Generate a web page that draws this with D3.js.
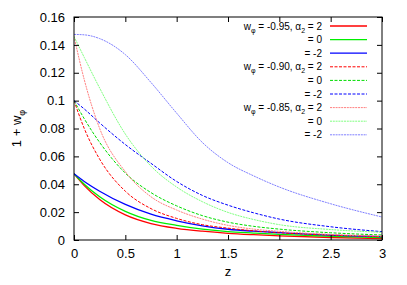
<!DOCTYPE html>
<html lang="en">
<head>
    <meta charset="UTF-8">
    <title>1 + w_phi versus z</title>
    <script src="https://cdnjs.cloudflare.com/ajax/libs/d3/7.8.5/d3.min.js"></script>
    <style>
        body { margin: 0; padding: 0; background: #fff; }
        svg { display: block; font-family: "Liberation Sans", Arial, sans-serif; }
    </style>
</head>
<body>
    <div id="chart"></div>
    <script>
        // redshift grid the curves were read at
        const zGrid = [0, 0.1, 0.25, 0.5, 0.75, 1, 1.25, 1.5, 1.75, 2, 2.5, 3];

        // w_phi = -0.95
        const w95a2 = [0.0475, 0.039, 0.029, 0.018, 0.0118, 0.0084, 0.0063, 0.0048, 0.0038, 0.003, 0.0018, 0.001];
        const w95a0 = [0.0475, 0.040, 0.031, 0.0205, 0.014, 0.0105, 0.0078, 0.006, 0.005, 0.0041, 0.0027, 0.0017];
        const w95am2 = [0.0475, 0.042, 0.035, 0.0255, 0.0185, 0.0138, 0.0102, 0.0077, 0.0063, 0.0053, 0.0035, 0.0024];
        // w_phi = -0.90
        const w90a2 = [0.100, 0.080, 0.058, 0.035, 0.0225, 0.0155, 0.011, 0.0085, 0.0066, 0.0052, 0.0035, 0.0024];
        const w90a0 = [0.100, 0.087, 0.070, 0.048, 0.034, 0.0245, 0.0175, 0.0128, 0.0098, 0.0078, 0.0052, 0.0036];
        const w90am2 = [0.100, 0.094, 0.084, 0.0685, 0.055, 0.042, 0.032, 0.025, 0.0195, 0.015, 0.0095, 0.006];
        // w_phi = -0.85
        const w85a2 = [0.146, 0.115, 0.080, 0.049, 0.031, 0.0215, 0.015, 0.0105, 0.0078, 0.0062, 0.004, 0.0028];
        const w85a0 = [0.146, 0.131, 0.109, 0.076, 0.053, 0.038, 0.0275, 0.0198, 0.0147, 0.011, 0.0075, 0.0055];
        const w85am2 = [0.1475, 0.1472, 0.1445, 0.133, 0.113, 0.091, 0.070, 0.0555, 0.046, 0.038, 0.026, 0.0165];

        const xTicks = [0, 0.5, 1, 1.5, 2, 2.5, 3];
        const yTicks = [0, 0.02, 0.04, 0.06, 0.08, 0.1, 0.12, 0.14, 0.16];

        const series = [
            { w: "-0.95", a: "2", values: w95a2, color: "#ff0000", width: 1.3, dash: null },
            { w: null, a: "0", values: w95a0, color: "#00ee00", width: 1.3, dash: null },
            { w: null, a: "-2", values: w95am2, color: "#0000ff", width: 1.3, dash: null },
            { w: "-0.90", a: "2", values: w90a2, color: "#ff0000", width: 1, dash: "3,1.5" },
            { w: null, a: "0", values: w90a0, color: "#00dd00", width: 1, dash: "3,1.5" },
            { w: null, a: "-2", values: w90am2, color: "#0000ff", width: 1, dash: "3,1.5" },
            { w: "-0.85", a: "2", values: w85a2, color: "#ff8080", width: 1, dash: "2,0.8" },
            { w: null, a: "0", values: w85a0, color: "#80ff80", width: 1, dash: "2,0.8" },
            { w: null, a: "-2", values: w85am2, color: "#8080ff", width: 1, dash: "2,0.8" }
        ];

        const width = 407, height = 285;
        const margin = { top: 17, right: 25, bottom: 45, left: 74 };

        const svg = d3.select("#chart").append("svg")
            .attr("width", width)
            .attr("height", height);

        const x = d3.scaleLinear().domain([0, 3]).range([margin.left, width - margin.right]);
        const y = d3.scaleLinear().domain([0, 0.16]).range([height - margin.bottom, margin.top]);

        const line = d3.line()
            .x(d => x(d[0]))
            .y(d => y(d[1]))
            .curve(d3.curveMonotoneX);

        svg.append("clipPath").attr("id", "clip")
            .append("rect")
            .attr("x", x(0)).attr("y", y(0.16))
            .attr("width", x(3) - x(0)).attr("height", y(0) - y(0.16));

        // curves
        const g = svg.append("g").attr("clip-path", "url(#clip)");
        series.forEach(s => {
            g.append("path")
                .datum(zGrid.map((z, i) => [z, s.values[i]]))
                .attr("fill", "none")
                .attr("stroke", s.color)
                .attr("stroke-width", s.width)
                .attr("stroke-dasharray", s.dash)
                .attr("d", line);
        });

        // axes, gnuplot style: inward ticks mirrored on all sides
        const tick = 5;
        const axisG = svg.append("g");

        axisG.append("g").attr("transform", `translate(0,${y(0)})`)
            .call(d3.axisBottom(x).tickValues(xTicks).tickSize(-tick).tickPadding(9).tickFormat(d3.format("")))
            .call(a => a.select(".domain").remove());
        axisG.append("g").attr("transform", `translate(0,${y(0.16)})`)
            .call(d3.axisTop(x).tickValues(xTicks).tickSize(-tick).tickFormat(""))
            .call(a => a.select(".domain").remove());
        axisG.append("g").attr("transform", `translate(${x(0)},0)`)
            .call(d3.axisLeft(y).tickValues(yTicks).tickSize(-tick).tickPadding(9).tickFormat(d3.format("")))
            .call(a => a.select(".domain").remove());
        axisG.append("g").attr("transform", `translate(${x(3)},0)`)
            .call(d3.axisRight(y).tickValues(yTicks).tickSize(-tick).tickFormat(""))
            .call(a => a.select(".domain").remove());

        svg.selectAll(".tick text").attr("font-size", 13).attr("font-family", "Liberation Sans, Arial, sans-serif");
        svg.selectAll(".tick line").attr("stroke", "#000");

        svg.append("rect")
            .attr("x", x(0)).attr("y", y(0.16))
            .attr("width", x(3) - x(0)).attr("height", y(0) - y(0.16))
            .attr("fill", "none").attr("stroke", "#000").attr("stroke-width", 1);

        // axis labels
        svg.append("text")
            .attr("x", x(1.5)).attr("y", 276)
            .attr("text-anchor", "middle").attr("font-size", 13)
            .text("z");

        const yl = svg.append("text")
            .attr("transform", `translate(21,${(y(0) + y(0.16)) / 2}) rotate(-90)`)
            .attr("text-anchor", "middle").attr("font-size", 13);
        yl.append("tspan").text("1 + w");
        yl.append("tspan").attr("font-size", 9).attr("dy", 4).text("φ");

        // legend
        const legRowY = 26, legStep = 13.6;
        const legText = 322, legLine0 = 330, legLine1 = 367;
        const leg = svg.append("g").attr("font-size", 10);
        series.forEach((s, i) => {
            const ly = legRowY + i * legStep;
            const t = leg.append("text")
                .attr("x", legText).attr("y", ly + 3.5)
                .attr("text-anchor", "end");
            if (s.w) {
                t.append("tspan").text("w");
                t.append("tspan").attr("font-size", 7).attr("dy", 3).text("φ");
                t.append("tspan").attr("dy", -3).text(` = ${s.w}, α`);
                t.append("tspan").attr("font-size", 7).attr("dy", 3).text("2");
                t.append("tspan").attr("dy", -3).text(` = ${s.a}`);
            } else {
                t.text(`= ${s.a}`);
            }
            leg.append("line")
                .attr("x1", legLine0).attr("x2", legLine1)
                .attr("y1", ly).attr("y2", ly)
                .attr("stroke", s.color)
                .attr("stroke-width", s.width)
                .attr("stroke-dasharray", s.dash);
        });
    </script>
</body>
</html>
